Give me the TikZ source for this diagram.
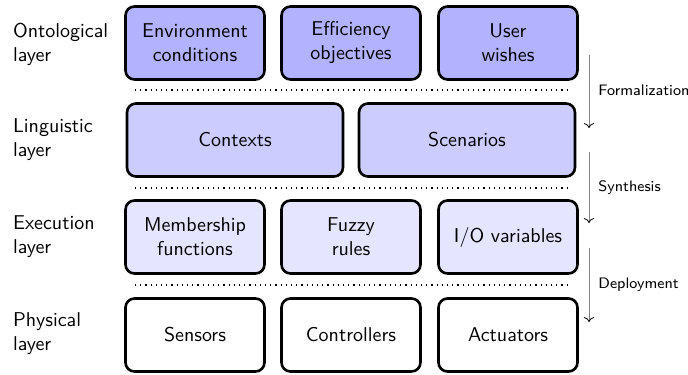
\documentclass[tikz,border=0pt]{standalone}
\usepackage{tikz}
\usetikzlibrary{arrows.meta}
\usetikzlibrary{positioning}

\tikzset{
  layerbox/.style={draw, line width=1.3pt, rounded corners=4.5pt, align=center,
    minimum width=69.5pt, minimum height=36.5pt, inner sep=2pt},
  widebox/.style={layerbox, minimum width=108pt},
  layername/.style={anchor=west, align=left},
  steplabel/.style={anchor=west, inner sep=2pt, font=\sffamily\fontsize{7.6}{9}\selectfont},
  stepline/.style={draw=gray, thin, -{To[black]}},
  sepline/.style={dotted, semithick}
}

\begin{document}
\begin{tikzpicture}[x=0.5pt, y=-0.5pt, font=\sffamily]
      \useasboundingbox (0,0) rectangle (688,374);

      % Ontological layer
      \node[layername] (onto) at (6,44) {Ontological\\layer};
      \node[layerbox, fill=blue!30] (env) at (195,43) {Environment\\conditions};
      \node[layerbox, fill=blue!30] (eff) at (351,43) {Efficiency\\objectives};
      \node[layerbox, fill=blue!30] (wish) at (508,43) {User\\wishes};

      \draw[sepline] (135,90) -- (568,90);

      % Linguistic layer
      \node[layername] (ling) at (6,140) {Linguistic\\layer};
      \node[widebox, fill=blue!20] (ctx) at (235,140) {Contexts};
      \node[widebox, fill=blue!20] (scen) at (467,140) {Scenarios};

      \draw[sepline] (135,188) -- (568,188);

      % Execution layer
      \node[layername] (exec) at (6,237) {Execution\\layer};
      \node[layerbox, fill=blue!10] (mf) at (195,237) {Membership\\functions};
      \node[layerbox, fill=blue!10] (rules) at (351,237) {Fuzzy\\rules};
      \node[layerbox, fill=blue!10] (io) at (508,237) {I/O variables};

      \draw[sepline] (135,285) -- (568,285);

      % Physical layer
      \node[layername] (phys) at (6,334) {Physical\\layer};
      \node[layerbox] (sens) at (195,335) {Sensors};
      \node[layerbox] (ctrl) at (351,335) {Controllers};
      \node[layerbox] (act) at (508,335) {Actuators};

      % Transitions between layers
      \coordinate (f0) at (589,55);
      \coordinate (f1) at (589,128);
      \coordinate (s0) at (589,152);
      \coordinate (s1) at (589,223);
      \coordinate (d0) at (589,248);
      \coordinate (d1) at (589,322);
      \draw[stepline] (f0) -- (f1);
      \draw[stepline] (s0) -- (s1);
      \draw[stepline] (d0) -- (d1);
      \node[steplabel] (form) at (594,90) {Formalization};
      \node[steplabel] (synth) at (594,188) {Synthesis};
      \node[steplabel] (depl) at (594,285) {Deployment};
\end{tikzpicture}
\end{document}
